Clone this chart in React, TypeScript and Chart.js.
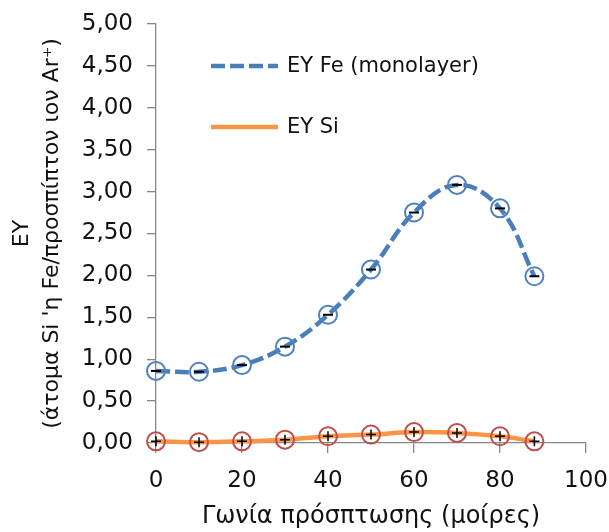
import React, { useEffect, useRef } from 'react';
import { Chart, registerables } from 'chart.js';

Chart.register(...registerables);

const angles = [0, 10, 20, 30, 40, 50, 60, 70, 80, 88];
const eyFe = [0.86, 0.85, 0.93, 1.15, 1.53, 2.07, 2.75, 3.08, 2.8, 1.99];
const eySi = [0.02, 0.01, 0.02, 0.04, 0.08, 0.1, 0.13, 0.12, 0.08, 0.02];
const xTickValues = [0, 20, 40, 60, 80, 100];
const yTickValues = [0, 0.5, 1, 1.5, 2, 2.5, 3, 3.5, 4, 4.5, 5];
const seriesLabels = ['EY Fe (monolayer)', 'EY Si'];
const xTitle = 'Γωνία πρόσπτωσης (μοίρες)';
const yTitle = ['EY', "(άτομα Si 'η Fe/προσπίπτον ιον Ar⁺)"];

const FE_BLUE = '#4A7EBB';
const FE_MARK = '#4F81BD';
const SI_ORANGE = '#F79646';
const SI_MARK = '#C0504D';
const AXIS_FONT = '"DejaVu Sans", sans-serif';

const legendPlugin = {
  id: 'customLegend',
  afterDraw(chart: any) {
    const { ctx, chartArea } = chart;
    const x0 = chartArea.left + 55;
    const x1 = chartArea.left + 122;
    const tx = chartArea.left + 131;
    const rows = [
      { y: chartArea.top + 42, color: FE_BLUE, dash: [14, 5], label: seriesLabels[0] },
      { y: chartArea.top + 103, color: SI_ORANGE, dash: [], label: seriesLabels[1] },
    ];
    ctx.save();
    rows.forEach((r) => {
      ctx.beginPath();
      ctx.setLineDash(r.dash);
      ctx.lineWidth = 4.5;
      ctx.strokeStyle = r.color;
      ctx.lineCap = 'butt';
      ctx.moveTo(x0, r.y);
      ctx.lineTo(x1, r.y);
      ctx.stroke();
      ctx.setLineDash([]);
      ctx.fillStyle = '#111';
      ctx.font = '21px ' + AXIS_FONT;
      ctx.textBaseline = 'middle';
      ctx.textAlign = 'left';
      ctx.fillText(r.label, tx, r.y + 1);
    });
    ctx.restore();
  },
};

export default function App() {
  const ref = useRef<HTMLCanvasElement | null>(null);
  useEffect(() => {
    if (!ref.current) return;
    const fePts = angles.map((a, i) => ({ x: a, y: eyFe[i] }));
    const siPts = angles.map((a, i) => ({ x: a, y: eySi[i] }));
    const chart = new Chart(ref.current, {
      type: 'line',
      data: {
        datasets: [
          {
            label: 'Fe err',
            data: fePts,
            showLine: false,
            pointStyle: 'line',
            pointRadius: 5,
            pointBorderColor: '#000',
            pointBorderWidth: 2,
            pointBackgroundColor: '#000',
            order: 0,
            clip: false,
          } as any,
          {
            label: 'Si err',
            data: siPts,
            showLine: false,
            pointStyle: 'cross',
            pointRadius: 5,
            pointBorderColor: '#000',
            pointBorderWidth: 1.5,
            order: 0,
            clip: false,
          } as any,
          {
            label: seriesLabels[0],
            data: fePts,
            borderColor: FE_BLUE,
            borderWidth: 4.5,
            borderDash: [14, 5],
            tension: 0.4,
            pointStyle: 'circle',
            pointRadius: 9,
            pointBorderColor: FE_MARK,
            pointBorderWidth: 2,
            pointBackgroundColor: 'rgba(0,0,0,0)',
            order: 2,
            clip: false,
          } as any,
          {
            label: seriesLabels[1],
            data: siPts,
            borderColor: SI_ORANGE,
            borderWidth: 4.5,
            tension: 0.4,
            pointStyle: 'circle',
            pointRadius: 9,
            pointBorderColor: SI_MARK,
            pointBorderWidth: 2,
            pointBackgroundColor: 'rgba(0,0,0,0)',
            order: 1,
            clip: false,
          } as any,
        ],
      },
      options: {
        animation: false,
        responsive: false,
        layout: { padding: { top: 24, right: 23, left: 0, bottom: 0 } },
        plugins: { legend: { display: false }, tooltip: { enabled: false } },
        scales: {
          x: {
            type: 'linear',
            min: 0,
            max: 100,
            afterBuildTicks: (scale: any) => {
              scale.ticks = xTickValues.map((v) => ({ value: v }));
            },
            afterFit: (scale: any) => {
              scale.height = 89;
              scale.paddingLeft = 0;
              scale.paddingRight = 0;
            },
            ticks: {
              color: '#111',
              font: { family: AXIS_FONT, size: 23 },
              padding: 14,
              maxRotation: 0,
            },
            grid: {
              drawOnChartArea: false,
              drawTicks: true,
              tickLength: 10,
              color: '#878787',
              lineWidth: 1.3,
            },
            border: { color: '#878787', width: 1.3 },
            title: {
              display: true,
              text: xTitle,
              color: '#111',
              font: { family: AXIS_FONT, size: 24 },
              padding: { top: 0, bottom: 1 },
            },
          },
          y: {
            type: 'linear',
            min: 0,
            max: 5,
            afterBuildTicks: (scale: any) => {
              scale.ticks = yTickValues.map((v) => ({ value: v }));
            },
            afterFit: (scale: any) => {
              scale.width = 156;
              scale.paddingTop = 0;
              scale.paddingBottom = 0;
            },
            ticks: {
              color: '#111',
              font: { family: AXIS_FONT, size: 23 },
              padding: 14,
              callback: (v: any) => Number(v).toFixed(2).replace('.', ','),
            },
            grid: {
              drawOnChartArea: false,
              drawTicks: true,
              tickLength: 9,
              color: '#878787',
              lineWidth: 1.3,
            },
            border: { color: '#878787', width: 1.3 },
            title: {
              display: true,
              text: yTitle,
              color: '#111',
              font: { family: AXIS_FONT, size: 22, lineHeight: 1.36 },
              padding: { top: 7.5, bottom: 0 },
            },
          },
        },
      } as any,
      plugins: [legendPlugin],
    });
    return () => chart.destroy();
  }, []);
  return (
    <div style={{ position: 'absolute', left: 0, top: 0, width: 609, height: 532, background: '#fff' }}>
      <canvas ref={ref} width={609} height={532} style={{ display: 'block' }} />
    </div>
  );
}
